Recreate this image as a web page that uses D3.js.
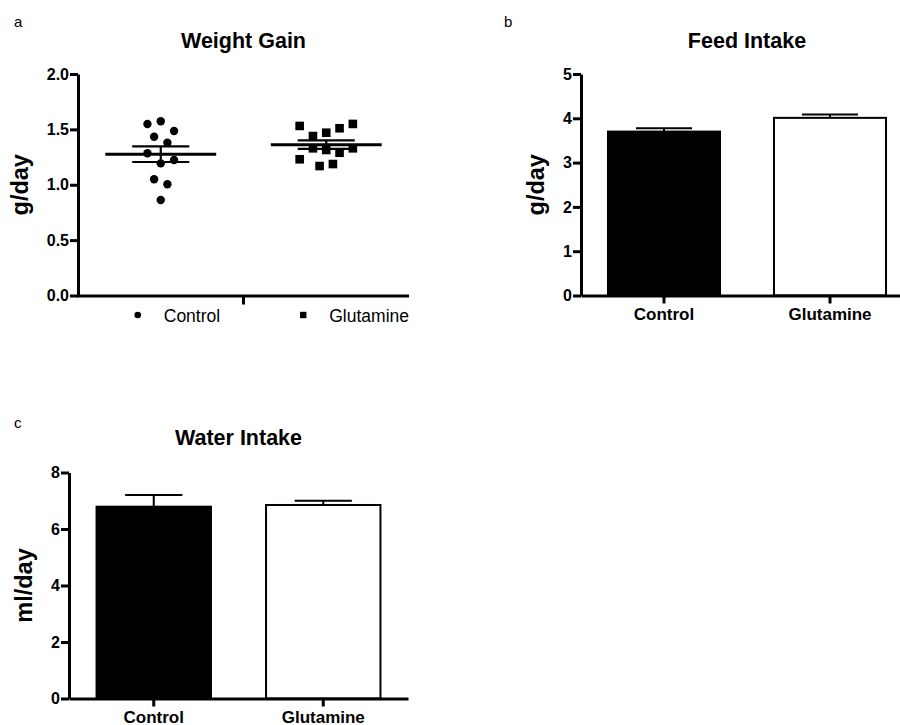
<!DOCTYPE html>
<html>
<head>
<meta charset="utf-8">
<script src="https://cdn.jsdelivr.net/npm/d3@7"></script>
<style>
  body { margin: 0; background: #fff; }
  svg { display: block; font-family: "Liberation Sans", Arial, sans-serif; }
</style>
</head>
<body>
<div id="chart"></div>
<script>
// groups, shared by the three panels
const groups = ["Control", "Glutamine"];

// a - weight gain per animal (g/day)
const weightControl = [1.549, 1.573, 1.486, 1.434, 1.380, 1.284, 1.193, 1.223, 1.049, 1.004, 0.862];
const weightGlutamine = [1.531, 1.440, 1.470, 1.510, 1.549, 1.230, 1.329, 1.314, 1.289, 1.329, 1.169, 1.187];

// b - feed intake, mean and sem (g/day)
const feedMean = [3.70, 4.01];
const feedSem = [0.075, 0.078];

// c - water intake, mean and sem (ml/day)
const waterMean = [6.79, 6.85];
const waterSem = [0.41, 0.15];

// y ticks
const weightTicks = [0, 0.5, 1.0, 1.5, 2.0];
const feedTicks = [0, 1, 2, 3, 4, 5];
const waterTicks = [0, 2, 4, 6, 8];

const width = 900;
const height = 725;

const svg = d3.select("#chart").append("svg")
    .attr("width", width)
    .attr("height", height)
    .attr("viewBox", [0, 0, width, height]);

// frame of one panel: title, letter, y axis, y label; returns the scales
function frame(opts) {
    const g = svg.append("g");
    const x = d3.scaleBand().domain(groups).range([opts.left, opts.right]);
    const y = d3.scaleLinear().domain([0, opts.max]).range([opts.bottom, opts.top]);

    g.append("text")
        .attr("x", opts.letterX)
        .attr("y", opts.letterY)
        .attr("font-size", 15)
        .text(opts.letter);

    g.append("text")
        .attr("x", (opts.left + opts.right) / 2)
        .attr("y", opts.titleY)
        .attr("text-anchor", "middle")
        .attr("font-size", 21.5)
        .attr("font-weight", "bold")
        .text(opts.title);

    const yAxis = g.append("g")
        .attr("transform", `translate(${opts.left},0)`)
        .call(d3.axisLeft(y)
            .tickValues(opts.ticks)
            .tickFormat(opts.format)
            .tickSize(8)
            .tickPadding(1)
            .tickSizeOuter(0))
        .attr("font-family", null)
        .attr("font-size", null);
    yAxis.select(".domain").attr("stroke-width", 3);
    yAxis.selectAll(".tick line").attr("stroke-width", 3);
    yAxis.selectAll(".tick text")
        .attr("font-size", 16)
        .attr("font-weight", "bold")
        .attr("fill", "#000");

    // y label sits left of the widest tick label
    const minX = d3.min(yAxis.selectAll(".tick text").nodes(), n => n.getBBox().x);
    g.append("text")
        .attr("transform", `translate(${opts.left + minX - 18.7},${(opts.top + opts.bottom) / 2}) rotate(-90)`)
        .attr("text-anchor", "middle")
        .attr("font-size", 23.5)
        .attr("font-weight", "bold")
        .text(opts.ylabel);

    return {g, x, y};
}

// bar panel with upper sem whisker
function barPanel(opts, means, sems) {
    const {g, x, y} = frame(opts);
    const bw = x.bandwidth() * 0.675;
    const cx = d => x(d) + x.bandwidth() / 2;

    g.selectAll("rect.bar")
        .data(groups)
        .join("rect")
        .attr("class", "bar")
        .attr("x", d => cx(d) - bw / 2)
        .attr("y", (d, i) => y(means[i]))
        .attr("width", bw)
        .attr("height", (d, i) => y(0) - y(means[i]))
        .attr("fill", (d, i) => i === 0 ? "#000" : "#fff")
        .attr("stroke", "#000")
        .attr("stroke-width", 2);

    // whiskers
    g.selectAll("path.err")
        .data(groups)
        .join("path")
        .attr("class", "err")
        .attr("fill", "none")
        .attr("stroke", "#000")
        .attr("stroke-width", 2)
        .attr("d", (d, i) => `
            M${cx(d)},${y(means[i])}
            V${y(means[i] + sems[i])}
            M${cx(d) - bw / 4},${y(means[i] + sems[i])}
            H${cx(d) + bw / 4}`);

    const xAxis = g.append("g")
        .attr("transform", `translate(0,${y(0)})`)
        .call(d3.axisBottom(x).tickSize(8).tickPadding(4.5).tickSizeOuter(0))
        .attr("font-family", null)
        .attr("font-size", null);
    xAxis.select(".domain").attr("stroke-width", 3);
    xAxis.selectAll(".tick line").attr("stroke-width", 3);
    xAxis.selectAll(".tick text")
        .attr("font-size", 17)
        .attr("font-weight", "bold")
        .attr("fill", "#000");
}

// rows of close values are spread side by side, centred on the group
function swarm(values, y) {
    const order = d3.range(values.length).sort((a, b) => values[b] - values[a]);
    const rows = [];
    order.forEach(i => {
        const row = rows[rows.length - 1];
        if (row && y(values[i]) - y(values[row[0]]) < 13) row.push(i);
        else rows.push([i]);
    });
    const offset = new Array(values.length);
    rows.forEach(row => {
        row.sort((a, b) => a - b);
        row.forEach((i, k) => offset[i] = (k - (row.length - 1) / 2) * 13.3);
    });
    return values.map((v, i) => ({v, dx: offset[i]}));
}

// ---- a: weight gain scatter
(function () {
    const opts = {
        left: 78, right: 409, top: 74, bottom: 295.5, max: 2,
        ticks: weightTicks, format: d3.format(".1f"),
        title: "Weight Gain", titleY: 48, ylabel: "g/day",
        letter: "a", letterX: 14, letterY: 27
    };
    const {g, x, y} = frame(opts);
    const series = [weightControl, weightGlutamine];
    const cx = d => x(d) + x.bandwidth() / 2;

    g.append("line")
        .attr("x1", opts.left - 1)
        .attr("x2", opts.right)
        .attr("y1", y(0) + 0.5)
        .attr("y2", y(0) + 0.5)
        .attr("stroke", "#000")
        .attr("stroke-width", 3);
    g.append("line")
        .attr("x1", x(groups[1]))
        .attr("x2", x(groups[1]))
        .attr("y1", y(0))
        .attr("y2", y(0) + 9)
        .attr("stroke", "#000")
        .attr("stroke-width", 3);

    // control: circles
    g.selectAll("circle.pt")
        .data(swarm(weightControl, y))
        .join("circle")
        .attr("class", "pt")
        .attr("cx", d => cx(groups[0]) + d.dx)
        .attr("cy", d => y(d.v))
        .attr("r", 4.2)
        .attr("fill", "#000");

    // glutamine: squares
    const sq = 8.6;
    g.selectAll("rect.pt")
        .data(swarm(weightGlutamine, y))
        .join("rect")
        .attr("class", "pt")
        .attr("x", d => cx(groups[1]) + d.dx - sq / 2)
        .attr("y", d => y(d.v) - sq / 2)
        .attr("width", sq)
        .attr("height", sq)
        .attr("fill", "#000");

    // mean +- sem
    const meanW = x.bandwidth() * 0.67;
    const semW = x.bandwidth() * 0.345;
    series.forEach((vals, i) => {
        const m = d3.mean(vals);
        const s = d3.deviation(vals) / Math.sqrt(vals.length);
        const c = cx(groups[i]);
        g.append("path")
            .attr("stroke", "#000")
            .attr("stroke-width", 3)
            .attr("d", `M${c - meanW / 2},${y(m)}H${c + meanW / 2}`);
        g.append("path")
            .attr("stroke", "#000")
            .attr("stroke-width", 2.2)
            .attr("fill", "none")
            .attr("d", `
                M${c - semW / 2},${y(m + s)}H${c + semW / 2}
                M${c - semW / 2},${y(m - s)}H${c + semW / 2}
                M${c},${y(m + s)}V${y(m - s)}`);
    });

    // legend under the axis
    const ly = y(0) + 19.5;
    const leg = g.selectAll("g.leg")
        .data(groups)
        .join("g")
        .attr("class", "leg")
        .attr("transform", d => `translate(${cx(d)},${ly})`);
    leg.filter((d, i) => i === 0).append("circle")
        .attr("cx", -23).attr("r", 3.3).attr("fill", "#000");
    leg.filter((d, i) => i === 1).append("rect")
        .attr("x", -23 - 3.2).attr("y", -3.2).attr("width", 6.4).attr("height", 6.4).attr("fill", "#000");
    leg.append("text")
        .attr("x", 3)
        .attr("y", 6.5)
        .attr("font-size", 17.5)
        .text(d => d);
})();

// ---- b: feed intake
barPanel({
    left: 581, right: 913, top: 74, bottom: 295.5, max: 5,
    ticks: feedTicks, format: d3.format("d"),
    title: "Feed Intake", titleY: 48, ylabel: "g/day",
    letter: "b", letterX: 504, letterY: 27
}, feedMean, feedSem);

// ---- c: water intake
barPanel({
    left: 69, right: 408, top: 472.5, bottom: 698.5, max: 8,
    ticks: waterTicks, format: d3.format("d"),
    title: "Water Intake", titleY: 445, ylabel: "ml/day",
    letter: "c", letterX: 14, letterY: 428
}, waterMean, waterSem);
</script>
</body>
</html>
